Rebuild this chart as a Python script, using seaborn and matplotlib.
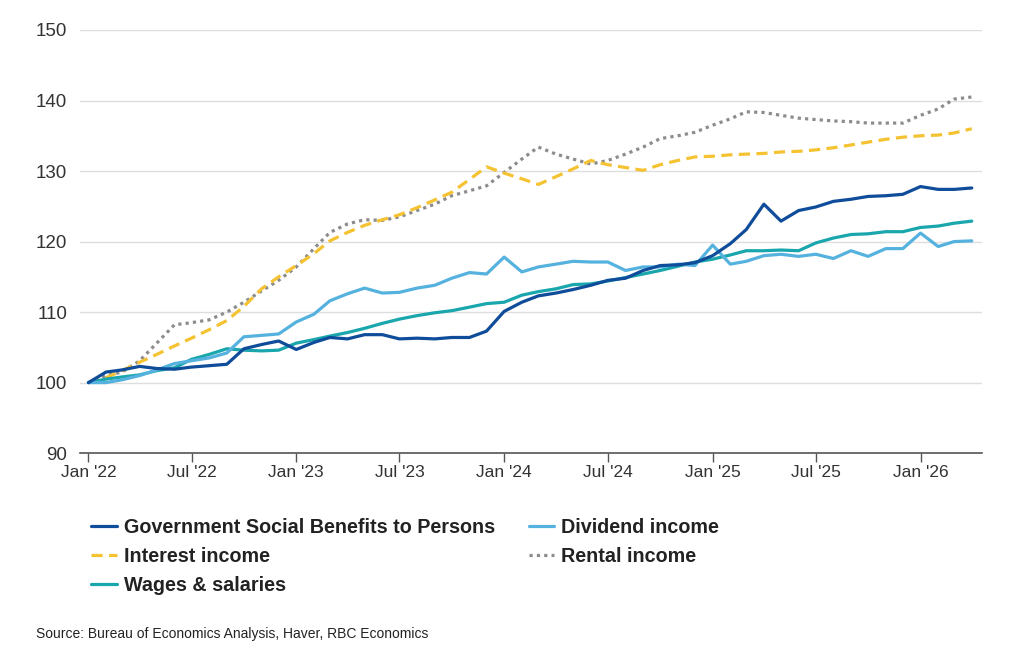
import seaborn as sns
import matplotlib.pyplot as plt
import matplotlib.dates as mdates
import pandas as pd

sns.set_theme(style="white")
plt.rcParams['font.family'] = ['Liberation Sans', 'DejaVu Sans']

# monthly index, Jan 2022 = 100
months = pd.date_range("2022-01-01", "2026-04-01", freq="MS")

gov_benefits = [100, 101.5, 101.8, 102.3, 102.0, 101.9, 102.2, 102.4, 102.6, 104.8,
                105.4, 105.9, 104.7, 105.7, 106.4, 106.2, 106.8, 106.8, 106.2, 106.3,
                106.2, 106.4, 106.4, 107.3, 110.1, 111.4, 112.3, 112.7, 113.2, 113.8,
                114.5, 114.8, 115.9, 116.6, 116.7, 117.0, 118.0, 119.7, 121.7, 125.3,
                122.9, 124.4, 124.9, 125.7, 126.0, 126.4, 126.5, 126.7, 127.8, 127.4,
                127.4, 127.6]
dividend = [100, 100.0, 100.4, 101.0, 101.8, 102.7, 103.1, 103.5, 104.2, 106.5,
            106.7, 106.9, 108.6, 109.7, 111.6, 112.6, 113.4, 112.7, 112.8, 113.4,
            113.8, 114.8, 115.6, 115.4, 117.8, 115.7, 116.4, 116.8, 117.2, 117.1,
            117.1, 115.9, 116.4, 116.4, 116.8, 116.6, 119.5, 116.8, 117.2, 118.0,
            118.2, 117.9, 118.2, 117.6, 118.7, 117.9, 119.0, 119.0, 121.2, 119.3,
            120.0, 120.1]
interest = [100, 100.7, 101.7, 102.9, 104.0, 105.2, 106.3, 107.5, 108.8, 110.8,
            113.3, 115.0, 116.6, 118.3, 120.1, 121.3, 122.3, 123.1, 123.8, 124.8,
            125.9, 127.0, 128.8, 130.6, 129.7, 128.9, 128.1, 129.2, 130.3, 131.5,
            130.9, 130.5, 130.1, 130.9, 131.5, 132.0, 132.1, 132.3, 132.4, 132.5,
            132.7, 132.8, 133.0, 133.3, 133.7, 134.1, 134.5, 134.8, 135.0, 135.1,
            135.4, 136.0]
rental = [100, 101.0, 101.5, 103.1, 105.6, 108.2, 108.5, 108.9, 110.0, 111.4,
          113.0, 114.5, 116.4, 119.0, 121.3, 122.5, 123.1, 123.0, 123.5, 124.4,
          125.3, 126.5, 127.2, 127.9, 129.8, 131.7, 133.4, 132.4, 131.7, 131.0,
          131.5, 132.4, 133.4, 134.6, 135.0, 135.5, 136.5, 137.4, 138.4, 138.3,
          137.9, 137.5, 137.3, 137.1, 137.0, 136.8, 136.8, 136.8, 137.9, 138.8,
          140.2, 140.5]
wages = [100, 100.5, 100.8, 101.1, 101.7, 102.1, 103.3, 104.0, 104.8, 104.6,
         104.5, 104.6, 105.6, 106.1, 106.6, 107.1, 107.7, 108.4, 109.0, 109.5,
         109.9, 110.2, 110.7, 111.2, 111.4, 112.4, 112.9, 113.3, 113.9, 114.0,
         114.4, 114.9, 115.4, 115.9, 116.5, 117.1, 117.5, 118.1, 118.7, 118.7,
         118.8, 118.7, 119.8, 120.5, 121.0, 121.1, 121.4, 121.4, 122.0, 122.2,
         122.6, 122.9]

df = pd.DataFrame({"date": months,
                   "Government Social Benefits to Persons": gov_benefits,
                   "Dividend income": dividend,
                   "Interest income": interest,
                   "Rental income": rental,
                   "Wages & salaries": wages})

styles = {
    "Government Social Benefits to Persons": dict(color="#0f4c9a", ls="-"),
    "Dividend income": dict(color="#55b2df", ls="-"),
    "Interest income": dict(color="#f5c231", ls=(0, (3.5, 2))),
    "Rental income": dict(color="#8c8c8c", ls=(0, (1, 1.3))),
    "Wages & salaries": dict(color="#1aa6ad", ls="-"),
}

fig = plt.figure(figsize=(10.24, 6.52), dpi=100)
ax = fig.add_axes([0.078, 0.305, 0.881, 0.649])

# draw order: yellow/gray underneath, blues on top
draw_order = ["Rental income", "Interest income", "Wages & salaries",
              "Dividend income", "Government Social Benefits to Persons"]
handles = {}
for name in draw_order:
    st = styles[name]
    sns.lineplot(data=df, x="date", y=name, ax=ax, color=st["color"],
                 linewidth=2.3, linestyle=st["ls"], label=name, legend=False)
    handles[name] = ax.lines[-1]

ax.set_ylim(90, 150)
ax.set_yticks(range(90, 151, 10))
ax.set_xlim(pd.Timestamp("2021-12-17"), pd.Timestamp("2026-04-19"))
ax.xaxis.set_major_locator(mdates.MonthLocator(bymonth=[1, 7]))
ax.xaxis.set_major_formatter(mdates.DateFormatter("%b '%y"))
ax.set_xlabel("")
ax.set_ylabel("")

ax.grid(axis="y", color="#dedede", linewidth=1)
ax.grid(axis="x", visible=False)
for s in ["top", "right", "left"]:
    ax.spines[s].set_visible(False)
ax.spines["bottom"].set_color("#555555")
ax.spines["bottom"].set_linewidth(1.2)
ax.tick_params(axis="x", bottom=True, length=6.5, width=1, color="#555555",
               labelsize=12.5, labelcolor="#333333", pad=2)
ax.tick_params(axis="y", left=False, length=0, labelsize=13.5,
               labelcolor="#333333", pad=9)

legend_order = ["Government Social Benefits to Persons", "Interest income",
                "Wages & salaries", "Dividend income", "Rental income"]
fig.legend([handles[n] for n in legend_order], legend_order,
           loc="upper left", bbox_to_anchor=(0.072, 0.233),
           ncol=2, frameon=False, prop={"size": 14.2, "weight": "bold"},
           handlelength=1.3, handletextpad=0.35, columnspacing=1.7,
           labelspacing=0.5, labelcolor="#222222")

fig.text(0.035, 1 - 634 / 652, "Source: Bureau of Economics Analysis, Haver, RBC Economics",
         fontsize=10, color="#222222", va="center")

fig.savefig("out.png", dpi=100)
